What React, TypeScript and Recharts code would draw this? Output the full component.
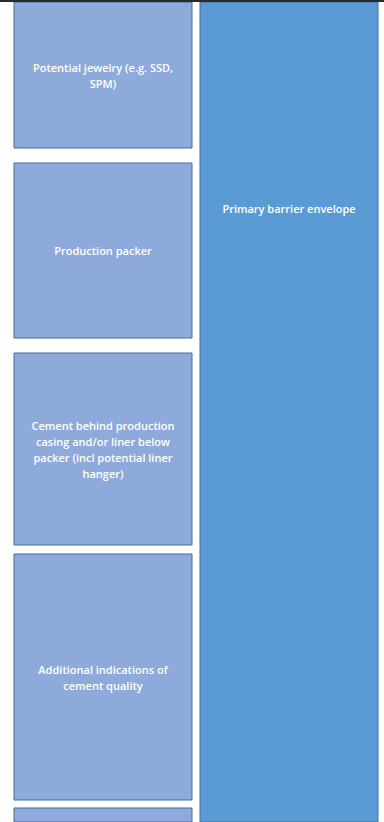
import React from 'react'
import { BarChart, Bar, XAxis, YAxis, Rectangle, ReferenceLine } from 'recharts'

// two columns of the barrier diagram
const columns = ['left', 'right']

// stacked heights from the top; even index = white gap, odd index = box
const leftSegments = [2, 146, 15, 175, 15, 192, 9, 246, 8, 40]
const rightSegments = [2, 840]

const leftLabels: string[][] = [
  [],
  ['Potential jewelry (e.g. SSD,', 'SPM)'],
  [],
  ['Production packer'],
  [],
  ['Cement behind production', 'casing and/or liner below', 'packer (incl potential liner', 'hanger)'],
  [],
  ['Additional indications of', 'cement quality'],
  [],
  [],
]
const rightLabels: string[][] = [[], ['Primary barrier envelope']]

const segmentKeys = leftSegments.map((_, i) => `s${i}`)

const data = columns.map((col) => {
  const src = col === 'left' ? leftSegments : rightSegments
  const row: Record<string, string | number> = { col }
  segmentKeys.forEach((k, i) => {
    row[k] = src[i] ?? 0
  })
  return row
})

const FILLS: Record<string, string> = { left: '#8eaadb', right: '#5b9bd5' }
const STROKE = '#41719c'
const LINE_H = 16
const RIGHT_LABEL_TOP = 206

function makeShape(segIndex: number) {
  return (props: any) => {
    const { x, y, width, height, payload } = props
    if (segIndex % 2 === 0 || !height) return <g />
    const col = payload.col as string
    const lines = (col === 'left' ? leftLabels : rightLabels)[segIndex] || []
    const top = Math.min(y, y + height)
    const h = Math.abs(height)
    const cx = x + width / 2
    const cy = col === 'left' ? top + h / 2 : top + RIGHT_LABEL_TOP
    return (
      <g>
        <Rectangle x={x} y={top} width={width} height={h} fill={FILLS[col]} stroke={STROKE} strokeWidth={1} />
        {lines.map((ln, i) => (
          <text
            key={i}
            x={cx}
            y={cy + (i - (lines.length - 1) / 2) * LINE_H}
            textAnchor="middle"
            dominantBaseline="central"
            fill="#ffffff"
            fontSize={11}
            fontWeight={600}
            fontFamily="'Open Sans', sans-serif"
          >
            {ln}
          </text>
        ))}
      </g>
    )
  }
}

export default function App() {
  return (
    <div style={{ position: 'fixed', top: 0, left: 0, width: 384, height: 822, background: '#fff' }}>
      <BarChart
        width={384}
        height={822}
        data={data}
        margin={{ top: 0, right: 0, bottom: 0, left: 0 }}
        barCategoryGap={4}
      >
        <XAxis dataKey="col" type="category" hide padding={{ left: 10, right: 2 }} />
        <YAxis type="number" hide domain={[0, 822]} reversed allowDataOverflow />
        {segmentKeys.map((k, i) => (
          <Bar key={k} dataKey={k} stackId="a" isAnimationActive={false} shape={makeShape(i)} />
        ))}
        <ReferenceLine y={0} stroke="#2a2a2a" strokeWidth={4} />
      </BarChart>
    </div>
  )
}
